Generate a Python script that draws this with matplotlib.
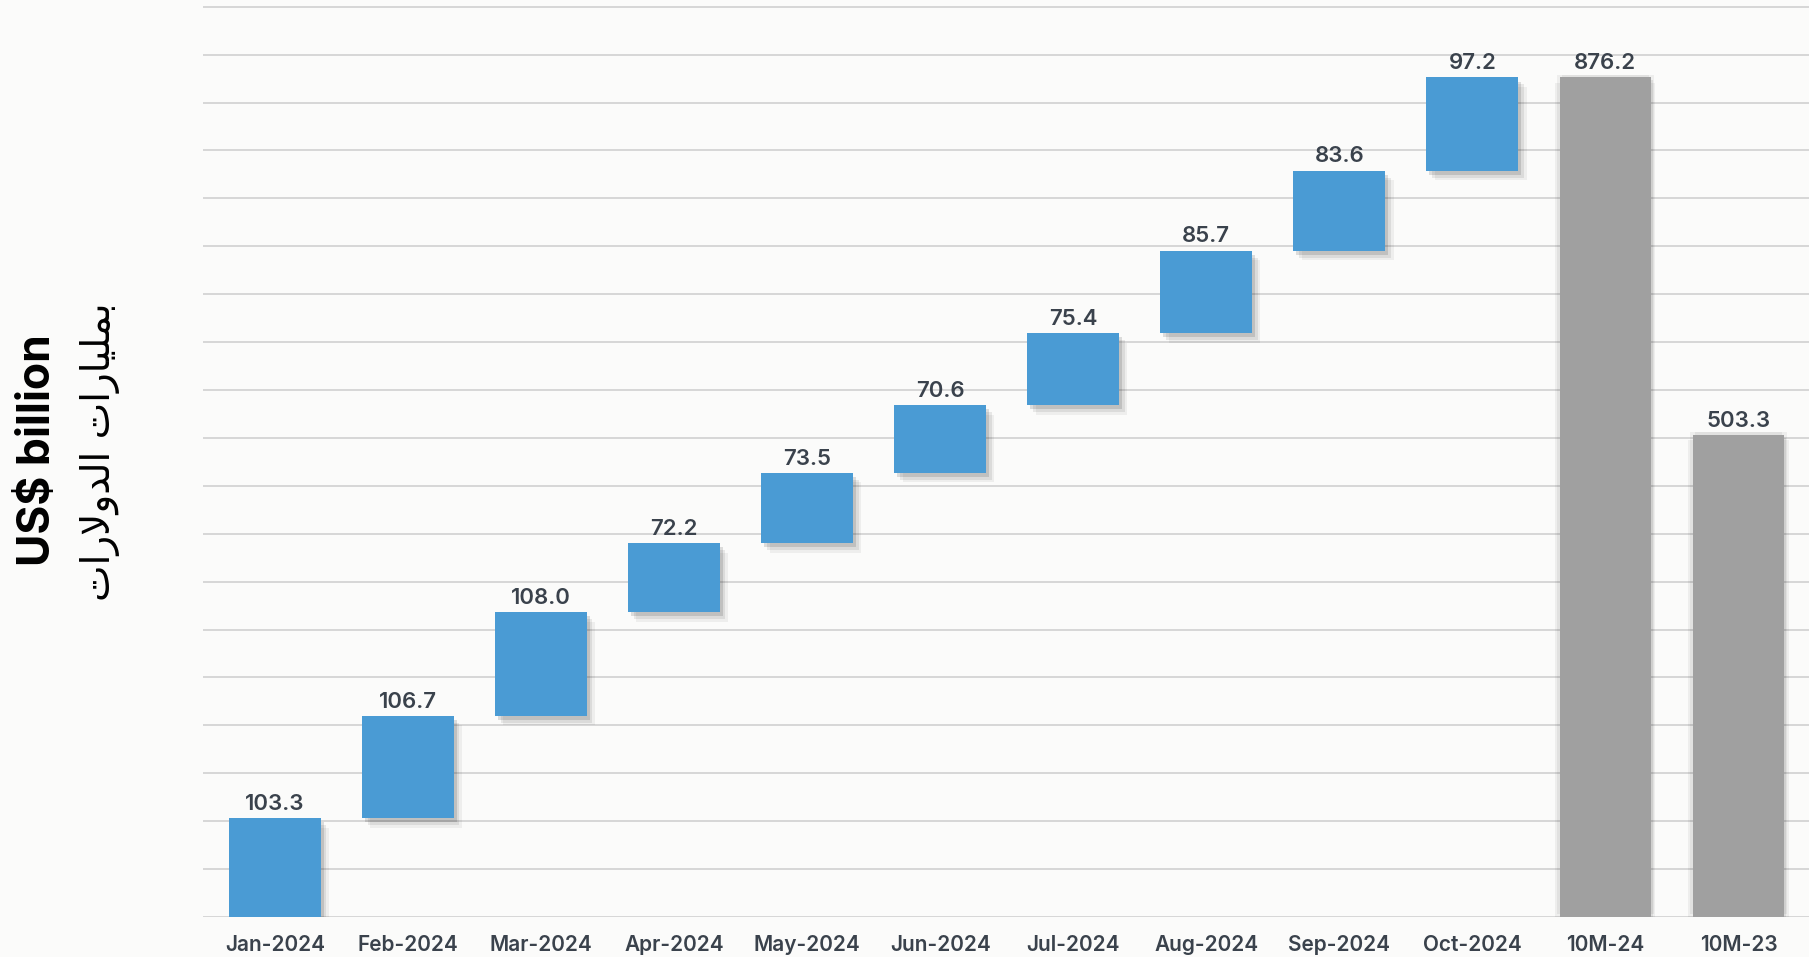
import matplotlib
matplotlib.use("Agg")
import matplotlib.pyplot as plt
import matplotlib.patheffects as pe
import numpy as np

categories = [
    "Jan-2024", "Feb-2024", "Mar-2024", "Apr-2024", "May-2024", "Jun-2024",
    "Jul-2024", "Aug-2024", "Sep-2024", "Oct-2024", "10M-24", "10M-23",
]
monthly = [103.3, 106.7, 108.0, 72.2, 73.5, 70.6, 75.4, 85.7, 83.6, 97.2]
total_10m24 = 876.2
total_10m23 = 503.3

BLUE = "#4a9bd4"
GREY = "#a0a0a0"
TEXT = "#3a424c"
BG = "#fbfbfa"

# Arabic axis title, written in presentation forms (display order) so that
# matplotlib, which does no shaping, shows the joined letters
arabic_logical = [
    "\uFE91", "\uFEE4", "\uFEE0", "\uFEF4", "\uFE8E", "\uFEAD", "\uFE8D", "\uFE95",
    " ",
    "\uFE8D", "\uFEDF", "\uFEAA", "\uFEED", "\uFEFB", "\uFEAD", "\uFE8D", "\uFE95",
]
arabic_title = "".join(reversed(arabic_logical))

plt.rcParams["font.family"] = ["Inter", "DejaVu Sans"]

fig = plt.figure(figsize=(18.09, 9.57), dpi=100, facecolor=BG)
ax = fig.add_axes([203 / 1809, 40 / 957, 1 - 203 / 1809, 1 - 40 / 957])
ax.set_facecolor(BG)

x = np.arange(len(categories))
bottoms = np.concatenate([[0], np.cumsum(monthly)[:-1]])

blue_shadow = [
    pe.SimplePatchShadow(offset=(6, -7), shadow_rgbFace="#000000", alpha=0.05),
    pe.SimplePatchShadow(offset=(4, -5), shadow_rgbFace="#000000", alpha=0.08),
    pe.SimplePatchShadow(offset=(2, -3), shadow_rgbFace="#000000", alpha=0.12),
    pe.Normal(),
]
grey_shadow = [
    pe.SimplePatchShadow(offset=(-3, -4), shadow_rgbFace="#000000", alpha=0.05),
    pe.SimplePatchShadow(offset=(3, -4), shadow_rgbFace="#000000", alpha=0.05),
    pe.SimplePatchShadow(offset=(-2, 2), shadow_rgbFace="#000000", alpha=0.05),
    pe.SimplePatchShadow(offset=(2, 2), shadow_rgbFace="#000000", alpha=0.05),
    pe.SimplePatchShadow(offset=(1, -2), shadow_rgbFace="#000000", alpha=0.08),
    pe.Normal(),
]

bars = ax.bar(x[:10], monthly, bottom=bottoms, width=0.69, color=BLUE,
              edgecolor="none", zorder=3)
for b in bars:
    b.set_path_effects(blue_shadow)

totals = ax.bar(x[10:], [total_10m24, total_10m23], width=0.69, color=GREY,
                edgecolor="none", zorder=3)
for b in totals:
    b.set_path_effects(grey_shadow)

for xi, bot, val in zip(x[:10], bottoms, monthly):
    ax.annotate(f"{val:.1f}", (xi, bot + val), xytext=(0, 3),
                textcoords="offset points", ha="center", va="bottom",
                fontsize=16, fontweight="semibold", color=TEXT, zorder=4)
for xi, val in zip(x[10:], [total_10m24, total_10m23]):
    ax.annotate(f"{val:.1f}", (xi, val), xytext=(0, 3),
                textcoords="offset points", ha="center", va="bottom",
                fontsize=16, fontweight="semibold", color=TEXT, zorder=4)

ax.set_xlim(-0.54, 11.53)
ax.set_ylim(0, 957)
ax.set_yticks(np.arange(0, 951, 50))
ax.set_yticklabels([])
ax.tick_params(axis="y", length=0)
ax.grid(axis="y", color="#d0d0d0", linewidth=1.2, zorder=0)
ax.set_axisbelow(True)

ax.set_xticks(x)
ax.set_xticklabels(categories, fontsize=15, fontweight="semibold", color=TEXT)
ax.tick_params(axis="x", length=0, pad=13)

for s in ax.spines.values():
    s.set_visible(False)

fig.text(38 / 1809, 0.53, "US$ billion", rotation=90, ha="center", va="center",
         fontsize=32, fontweight="bold", color="#000000")
fig.text(100 / 1809, 0.528, arabic_title, rotation=90, ha="center", va="center",
         fontsize=28, color="#000000", family=["DejaVu Sans"])

fig.savefig("out.png", dpi=100, facecolor=BG)
